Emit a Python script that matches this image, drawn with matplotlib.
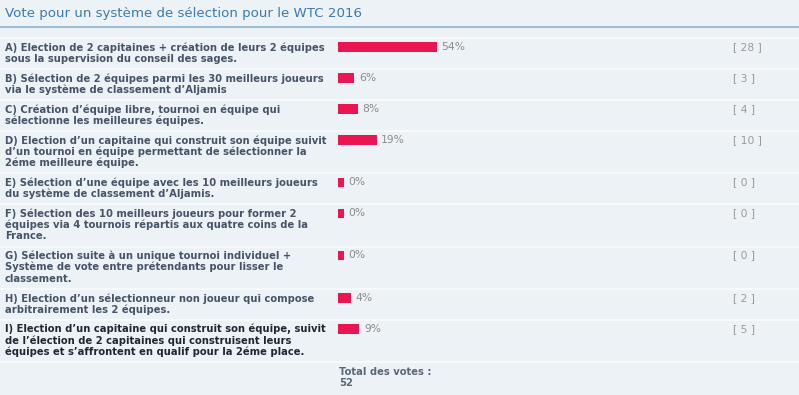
import matplotlib.pyplot as plt

# ------------------------------
# Poll data
# ------------------------------
title = "Vote pour un système de sélection pour le WTC 2016"

options = [
    "A) Election de 2 capitaines + création de leurs 2 équipes\nsous la supervision du conseil des sages.",
    "B) Sélection de 2 équipes parmi les 30 meilleurs joueurs\nvia le système de classement d’Aljamis",
    "C) Création d’équipe libre, tournoi en équipe qui\nsélectionne les meilleures équipes.",
    "D) Election d’un capitaine qui construit son équipe suivit\nd’un tournoi en équipe permettant de sélectionner la\n2éme meilleure équipe.",
    "E) Sélection d’une équipe avec les 10 meilleurs joueurs\ndu système de classement d’Aljamis.",
    "F) Sélection des 10 meilleurs joueurs pour former 2\néquipes via 4 tournois répartis aux quatre coins de la\nFrance.",
    "G) Sélection suite à un unique tournoi individuel +\nSystème de vote entre prétendants pour lisser le\nclassement.",
    "H) Election d’un sélectionneur non joueur qui compose\narbitrairement les 2 équipes.",
    "I) Election d’un capitaine qui construit son équipe, suivit\nde l’élection de 2 capitaines qui construisent leurs\néquipes et s’affrontent en qualif pour la 2éme place.",
]
percents = [54, 6, 8, 19, 0, 0, 0, 4, 9]
votes = [28, 3, 4, 10, 0, 0, 0, 2, 5]
total_label = "Total des votes :"
total_votes = 52

# ------------------------------
# Style
# ------------------------------
W, H = 799, 395
bg = "#edf2f6"
bar_color = "#ea1651"
text_color = "#465468"
chosen_color = "#1f2733"
gray = "#8c8c8c"
PX = 0.72  # px -> pt at 100 dpi

fig = plt.figure(figsize=(W / 100, H / 100), dpi=100, facecolor=bg)
ax = fig.add_axes([0, 0, 1, 1])
ax.set_xlim(0, W)
ax.set_ylim(H, 0)
ax.axis("off")

# bar column: 0..100 % mapped onto a fixed pixel span, small stub for 0 %
pad = 3.5
bar_left, bar_span = 338, 178
bax = fig.add_axes([bar_left / W, 0, bar_span / W, 1])
bax.set_xlim(-pad, 100)
bax.set_ylim(H, 0)
bax.axis("off")
bax.patch.set_alpha(0)

# title
ax.text(5, 13.5, title, fontsize=13.45 * PX, color="#3a7ab2",
        va="center", ha="left")
ax.plot([0, W], [27, 27], color="#8db3cf", lw=1.2)

# rows
label_fs = 9.95 * PX
line_h = 11.25
y = 38.0
for i, (label, p, v) in enumerate(zip(options, percents, votes)):
    ax.plot([0, W], [y, y], color="#fafcfd", lw=1.2)
    lines = label.split("\n")
    col = chosen_color if i == len(options) - 1 else text_color
    for j, ln in enumerate(lines):
        ax.text(5, y + 9.5 + j * line_h, ln, fontsize=label_fs,
                fontweight="bold", color=col, va="center", ha="left")
    yc = y + 9.0
    bax.barh(yc, p + pad, left=-pad, height=9.5, color=bar_color)
    bax.annotate(f"{p}%", (p, yc), xytext=(4.5 * PX, 0),
                 textcoords="offset points", fontsize=10.8 * PX,
                 color=gray, va="center", ha="left")
    ax.text(733, yc, f"[ {v} ]", fontsize=10.8 * PX, color="#9a9a9a",
            va="center", ha="left")
    y += 8.5 + line_h * len(lines)

ax.plot([0, W], [y, y], color="#fafcfd", lw=1.2)
ax.text(339, y + 10, total_label, fontsize=label_fs, fontweight="bold",
        color="#5b6778", va="center", ha="left")
ax.text(339, y + 10 + line_h, str(total_votes), fontsize=label_fs,
        fontweight="bold", color="#5b6778", va="center", ha="left")

fig.savefig("out.png", dpi=100, facecolor=bg)
